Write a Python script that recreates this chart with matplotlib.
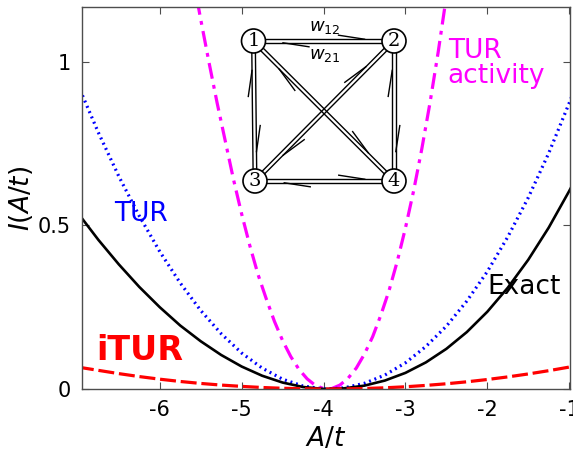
import numpy as np
import matplotlib.pyplot as plt
from matplotlib.patches import Circle

plt.rcParams['axes.unicode_minus'] = False
plt.rcParams['font.family'] = 'DejaVu Sans'

# --- datos ---
a_t = [-7.0, -6.75, -6.5, -6.25, -6.0, -5.75, -5.5, -5.25, -5.0, -4.75, -4.5,
       -4.25, -4.0, -3.95, -3.75, -3.5, -3.25, -3.0, -2.75, -2.5, -2.25, -2.0,
       -1.75, -1.5, -1.25, -1.0, -0.95]
exact = [0.538, 0.456, 0.381, 0.312, 0.25, 0.194, 0.146, 0.104, 0.0687, 0.0406,
         0.0197, 0.0061, 0.0002, 0.0, 0.002, 0.0103, 0.0259, 0.0493, 0.0814,
         0.1228, 0.1741, 0.2362, 0.3096, 0.3951, 0.4934, 0.6052, 0.629]
tur = [0.93, 0.784, 0.65, 0.529, 0.42, 0.324, 0.24, 0.169, 0.11, 0.064, 0.03,
       0.009, 0.0003, 0.0, 0.0034, 0.0174, 0.0427, 0.08, 0.13, 0.192, 0.269,
       0.359, 0.465, 0.585, 0.721, 0.874, 0.906]
itur = [0.067, 0.057, 0.047, 0.038, 0.030, 0.023, 0.017, 0.012, 0.008, 0.0046,
        0.0022, 0.0007, 0.0, 0.0, 0.0003, 0.0015, 0.0037, 0.0068, 0.011, 0.016,
        0.022, 0.029, 0.037, 0.046, 0.056, 0.067, 0.069]

a_act = [-5.6, -5.5, -5.4, -5.3, -5.2, -5.1, -5.0, -4.9, -4.8, -4.7, -4.6,
         -4.5, -4.4, -4.3, -4.2, -4.1, -4.0, -3.95, -3.9, -3.8, -3.7, -3.6,
         -3.5, -3.4, -3.3, -3.2, -3.1, -3.0, -2.9, -2.8, -2.7, -2.6, -2.5]
tur_act = [1.265, 1.13, 1.0, 0.875, 0.758, 0.641, 0.535, 0.438, 0.35, 0.276,
           0.207, 0.148, 0.099, 0.060, 0.031, 0.011, 0.0013, 0.0, 0.0013,
           0.012, 0.033, 0.064, 0.107, 0.160, 0.226, 0.301, 0.39, 0.492,
           0.606, 0.734, 0.875, 1.03, 1.2]

xticks = [-6, -5, -4, -3, -2, -1]
xtick_labels = ['-6', '-5', '-4', '-3', '-2', '-1']
yticks = [0, 0.5, 1]
ytick_labels = ['0', '0.5', '1']

# red de 4 estados (inset)
nodos = {'1': (253.5, 41), '2': (394, 41), '3': (255, 181), '4': (394, 181)}
aristas = [('1', '2'), ('1', '3'), ('1', '4'), ('2', '3'), ('2', '4'), ('3', '4')]

# --- figura ---
fig = plt.figure(figsize=(5.73, 4.58), dpi=100)
ax = fig.add_axes([82/573, 1 - 389/458, 488/573, 382/458])

ax.plot(a_act, tur_act, color='magenta', lw=2.3, dashes=[5, 2, 1.2, 2])
ax.plot(a_t, tur, color='blue', lw=2.3, linestyle=(0, (0.6, 1.2)))
ax.plot(a_t, exact, color='black', lw=1.9)
ax.plot(a_t, itur, color='red', lw=2.3, dashes=[5, 1.5])

ax.set_xlim(-6.95, -0.99)
ax.set_ylim(0, 1.168)
ax.set_xticks(xticks)
ax.set_xticklabels(xtick_labels)
ax.set_yticks(yticks)
ax.set_yticklabels(ytick_labels)
ax.tick_params(direction='in', top=True, right=True, length=5, width=0.8,
               labelsize=15, color='0.3', pad=8)
for s in ax.spines.values():
    s.set_color('0.3')
    s.set_linewidth(1.0)

ax.set_xlabel(r'$A/t$', fontsize=19, labelpad=4)
ax.set_ylabel(r'$I(A/t)$', fontsize=19, labelpad=2)

ax.text(-1.995, 0.312, 'Exact', fontsize=19, color='black', va='center')
ax.text(-6.225, 0.535, 'TUR', fontsize=19, color='blue', ha='center', va='center')
ax.text(-6.243, 0.119, 'iTUR', fontsize=24, color='red', fontweight='bold',
        ha='center', va='center')
ax.text(-2.484, 0.995, 'TUR\nactivity', fontsize=19, color='magenta',
        va='center', linespacing=0.95)

# inset con la red
axi = fig.add_axes([230/573, 1 - 200/458, 190/573, 185/458])
axi.set_xlim(230, 420)
axi.set_ylim(200, 15)
axi.axis('off')

r = 12
off = 1.8
L, w = 26, 4
for p, q in aristas:
    P = np.array(nodos[p])
    Q = np.array(nodos[q])
    u = (Q - P) / np.linalg.norm(Q - P)
    n = np.array([u[1], -u[0]])
    for sgn in (1, -1):
        a = P + u * r + sgn * n * off
        b = Q - u * r + sgn * n * off
        axi.plot([a[0], b[0]], [a[1], b[1]], color='black', lw=1.0)
        if sgn == 1:
            T = a + (b - a) * 0.85
            B = T - u * L + n * w
        else:
            T = a + (b - a) * 0.15
            B = T + u * L - n * w
        axi.plot([T[0], B[0]], [T[1], B[1]], color='black', lw=1.0)

for k, (x, y) in nodos.items():
    axi.add_patch(Circle((x, y), r, facecolor='white', edgecolor='black',
                         lw=1.2, zorder=3))
    axi.text(x, y + 0.5, k, fontsize=14, family='DejaVu Serif', ha='center',
             va='center', zorder=4)

axi.text(325, 27, r'$w_{12}$', fontsize=13, ha='center', va='center')
axi.text(325, 55, r'$w_{21}$', fontsize=13, ha='center', va='center')

fig.savefig('out.png', dpi=100)
